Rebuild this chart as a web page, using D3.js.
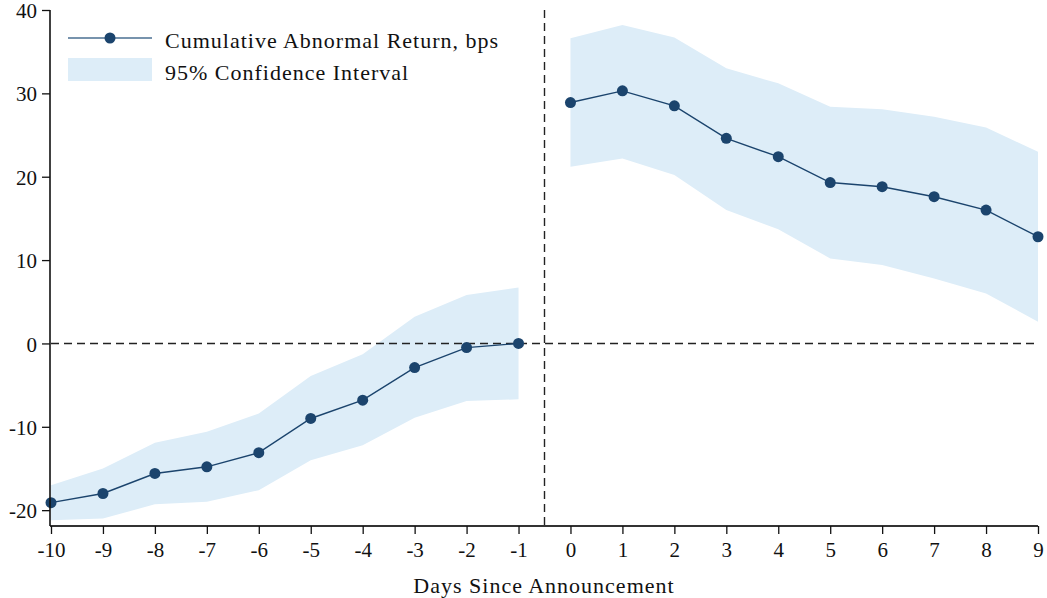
<!DOCTYPE html>
<html>
<head>
<meta charset="utf-8">
<script src="https://cdnjs.cloudflare.com/ajax/libs/d3/7.8.5/d3.min.js"></script>
<style>
  body { margin: 0; background: #fff; }
  svg text { font-family: "Liberation Serif", "DejaVu Serif", serif; fill: #111; }
  .lbl { font-size: 22px; letter-spacing: 1px; }
</style>
</head>
<body>
<div id="chart"></div>
<script>
// event days
var days = [-10, -9, -8, -7, -6, -5, -4, -3, -2, -1, 0, 1, 2, 3, 4, 5, 6, 7, 8, 9];
// cumulative abnormal return, bps
var car = [-19.1, -18.0, -15.6, -14.8, -13.1, -9.0, -6.8, -2.9, -0.5, 0.0,
           28.9, 30.3, 28.5, 24.6, 22.4, 19.3, 18.8, 17.6, 16.0, 12.8];
// 95% confidence band
var ciHigh = [-17.0, -15.0, -11.9, -10.6, -8.4, -3.9, -1.3, 3.2, 5.8, 6.7,
              36.6, 38.2, 36.7, 33.0, 31.2, 28.4, 28.1, 27.2, 25.9, 23.0];
var ciLow = [-21.2, -21.0, -19.3, -19.0, -17.6, -14.0, -12.2, -8.9, -6.9, -6.7,
             21.2, 22.2, 20.2, 16.0, 13.7, 10.2, 9.4, 7.8, 6.0, 2.6];
var yTicks = [-20, -10, 0, 10, 20, 30, 40];

var W = 1047, H = 598;
var svg = d3.select("#chart").append("svg").attr("width", W).attr("height", H);

var x = d3.scaleLinear().domain([-10, 9]).range([51, 1038]);
var y = d3.scaleLinear().domain([-21.9, 40]).range([526, 10]);

var lineColor = "#1b446d", bandColor = "#ddedf8";

// split into pre / post announcement segments
var rows = days.map(function (d, i) { return { d: d, v: car[i], lo: ciLow[i], hi: ciHigh[i] }; });
var pre = rows.filter(function (r) { return r.d < 0; });
var post = rows.filter(function (r) { return r.d >= 0; });

var area = d3.area().x(function (r) { return x(r.d); })
  .y0(function (r) { return y(r.lo); }).y1(function (r) { return y(r.hi); });
var line = d3.line().x(function (r) { return x(r.d); }).y(function (r) { return y(r.v); });

[pre, post].forEach(function (seg) {
  svg.append("path").datum(seg).attr("d", area).style("fill", bandColor);
});

// reference lines
svg.append("line")
  .attr("x1", x(-10)).attr("x2", x(9)).attr("y1", y(0)).attr("y2", y(0))
  .style("stroke", "#222").style("stroke-width", 1.4).style("stroke-dasharray", "8,5");
svg.append("line")
  .attr("x1", x(-0.5)).attr("x2", x(-0.5)).attr("y1", y(40)).attr("y2", y(-21.9))
  .style("stroke", "#222").style("stroke-width", 1.4).style("stroke-dasharray", "8,5");

[pre, post].forEach(function (seg) {
  svg.append("path").datum(seg).attr("d", line)
    .style("fill", "none").style("stroke", lineColor).style("stroke-width", 1.4);
});
svg.selectAll("circle.pt").data(rows).enter().append("circle")
  .attr("class", "pt")
  .attr("cx", function (r) { return x(r.d); })
  .attr("cy", function (r) { return y(r.v); })
  .attr("r", 5.5)
  .style("fill", lineColor);

// axes
var xAxis = svg.append("g").attr("transform", "translate(0," + y(-21.9) + ")")
  .call(d3.axisBottom(x).tickValues(days).tickFormat(d3.format("d")).tickSize(8).tickPadding(8));
xAxis.select(".domain").attr("d", "M" + (x(-10) - 1) + ",0H" + x(9))
  .style("stroke", "#333").style("stroke-width", 2);
xAxis.selectAll(".tick line").style("stroke", "#111").style("stroke-width", 1.3);
xAxis.selectAll("text").style("font-size", "21px")
  .style("font-family", "'Liberation Serif', serif").style("fill", "#111")
  .text(function (d) { return d < 0 ? "-" + Math.abs(d) : d; });

var yAxis = svg.append("g").attr("transform", "translate(" + 50 + ",0)")
  .call(d3.axisLeft(y).tickValues(yTicks).tickSize(8).tickPadding(5));
yAxis.select(".domain").attr("d", "M0," + y(40) + "V" + y(-21.9))
  .style("stroke", "#111").style("stroke-width", 1.6);
yAxis.selectAll(".tick line").style("stroke", "#111").style("stroke-width", 1.3);
yAxis.selectAll("text").style("font-size", "21px").attr("dy", "0.36em")
  .style("font-family", "'Liberation Serif', serif").style("fill", "#111")
  .text(function (d) { return d < 0 ? "-" + Math.abs(d) : d; });

svg.append("text").attr("class", "lbl")
  .attr("x", 544).attr("y", 593)
  .attr("text-anchor", "middle")
  .text("Days Since Announcement");

// legend
svg.append("line").attr("x1", 68).attr("x2", 152).attr("y1", 38).attr("y2", 38)
  .style("stroke", "#4a6f92").style("stroke-width", 1.6);
svg.append("circle").attr("cx", 110).attr("cy", 38).attr("r", 5.5).style("fill", lineColor);
svg.append("text").attr("class", "lbl").attr("x", 165).attr("y", 48)
  .text("Cumulative Abnormal Return, bps");
svg.append("rect").attr("x", 68).attr("y", 58).attr("width", 84).attr("height", 23)
  .style("fill", bandColor);
svg.append("text").attr("class", "lbl").attr("x", 165).attr("y", 80)
  .text("95% Confidence Interval");
</script>
</body>
</html>
